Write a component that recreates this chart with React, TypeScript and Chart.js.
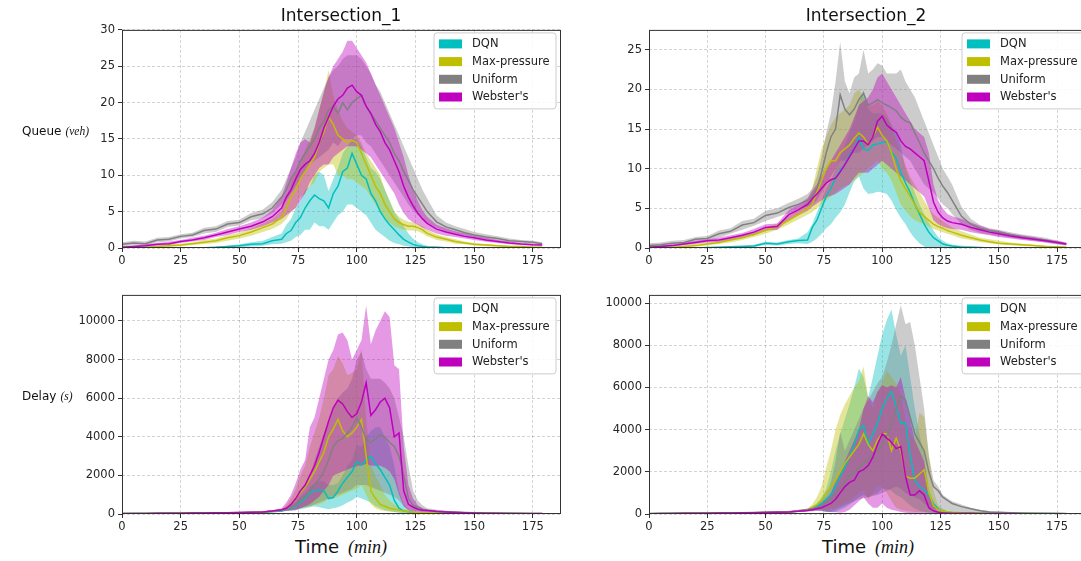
import React, { useEffect, useRef } from "react";
import { Chart, registerables } from "chart.js";

Chart.register(...registerables);

// Shared time axis (minutes)
const T = [0, 5, 10, 15, 20, 25, 30, 35, 40, 45, 50, 55, 60,
  64, 68, 70, 72, 74, 76, 78, 80, 82, 84, 86, 88,
  90, 92, 94, 96, 98, 100, 102, 104, 106, 108,
  110, 112, 114, 116, 118, 120, 122, 124, 126, 128,
  130, 134, 138, 142, 146, 150, 155, 160, 165, 170, 175, 179];

const NAMES = ["DQN", "Max-pressure", "Uniform", "Webster's"];
const LINE_COLORS = ["#00bfbf", "#bfbf00", "#808080", "#bf00bf"];
const FILL_COLORS = ["rgba(0,191,191,0.4)", "rgba(191,191,0,0.4)", "rgba(128,128,128,0.4)", "rgba(191,0,191,0.4)"];

// Tick labels
const X_TICKS = [0, 25, 50, 75, 100, 125, 150, 175];
const Q1_TICKS = [0, 5, 10, 15, 20, 25, 30];
const Q2_TICKS = [0, 5, 10, 15, 20, 25];
const D_TICKS = [0, 2000, 4000, 6000, 8000, 10000];

// ---------- Intersection_1 : Queue ----------
const q1DqnMean = [0, 0, 0, 0, 0, 0, 0, 0.05, 0.1, 0.2, 0.3, 0.5, 0.6,
  1.0, 1.2, 2.0, 2.4, 3.5, 4.2, 5.5, 6.5, 7.3, 6.8, 6.5, 5.5,
  7.5, 8.5, 10.5, 11.0, 13.0, 11.5, 10.0, 9.5, 7.5, 6.5,
  5.0, 4.0, 3.2, 2.5, 1.8, 1.2, 0.8, 0.5, 0.3, 0.2,
  0.15, 0.1, 0.05, 0, 0, 0, 0, 0, 0, 0, 0, 0];
const q1DqnLo = [0, 0, 0, 0, 0, 0, 0, 0, 0, 0.05, 0.1, 0.2, 0.3,
  0.5, 0.6, 0.8, 1.0, 1.5, 1.8, 2.5, 2.5, 3.5, 3.0, 3.0, 2.5,
  3.5, 4.5, 5.0, 6.0, 6.0, 5.5, 5.0, 4.5, 3.5, 2.5,
  2.0, 1.5, 1.0, 0.7, 0.5, 0.3, 0.2, 0.1, 0.05, 0,
  0, 0, 0, 0, 0, 0, 0, 0, 0, 0, 0, 0];
const q1DqnHi = [0, 0, 0, 0, 0, 0.05, 0.05, 0.1, 0.2, 0.3, 0.5, 0.8, 1.0,
  1.5, 2.0, 3.2, 4.0, 5.5, 6.5, 8.0, 8.5, 10.0, 10.5, 10.0, 7.8,
  9.5, 11.0, 13.0, 14.0, 15.0, 15.0, 14.0, 12.5, 11.0, 10.5,
  9.5, 8.0, 6.5, 5.0, 4.0, 3.0, 2.0, 1.3, 0.8, 0.5,
  0.3, 0.2, 0.1, 0.05, 0, 0, 0, 0, 0, 0, 0, 0];

const q1MpMean = [0, 0.05, 0.1, 0.2, 0.3, 0.4, 0.6, 0.8, 1.0, 1.4, 1.7, 2.2, 2.8,
  3.3, 4.2, 5.5, 7.0, 8.0, 9.5, 10.5, 11.5, 12.5, 14.5, 16.0, 18.0,
  17.0, 15.5, 15.0, 14.5, 14.8, 14.5, 13.0, 11.5, 10.0, 8.5,
  7.5, 6.0, 5.0, 4.0, 3.5, 3.2, 3.0, 3.0, 2.8, 2.5,
  2.0, 1.5, 1.2, 0.9, 0.7, 0.5, 0.4, 0.3, 0.2, 0.2, 0.1, 0.1];
const q1MpLo = [0, 0, 0.05, 0.1, 0.15, 0.25, 0.4, 0.55, 0.7, 1.0, 1.3, 1.7, 2.2,
  2.6, 3.3, 4.0, 5.0, 5.5, 7.0, 7.5, 8.5, 9.0, 10.5, 11.0, 11.5,
  11.5, 10.0, 10.0, 9.5, 9.5, 9.0, 8.5, 8.0, 7.0, 6.0,
  5.0, 4.0, 3.5, 3.0, 2.7, 2.5, 2.4, 2.4, 2.3, 2.0,
  1.6, 1.1, 0.9, 0.6, 0.5, 0.35, 0.25, 0.2, 0.1, 0.1, 0.05, 0.05];
const q1MpHi = [0.1, 0.15, 0.2, 0.35, 0.5, 0.6, 0.8, 1.1, 1.3, 1.8, 2.1, 2.7, 3.4,
  4.0, 5.2, 7.0, 9.0, 10.5, 12.0, 13.5, 15.0, 16.5, 19.0, 21.5, 24.5,
  21.0, 19.0, 17.5, 16.5, 16.0, 15.5, 14.5, 13.0, 12.0, 11.0,
  10.0, 8.0, 6.5, 5.0, 4.3, 3.9, 3.6, 3.5, 3.3, 3.0,
  2.5, 1.9, 1.5, 1.2, 0.9, 0.7, 0.55, 0.4, 0.3, 0.3, 0.2, 0.2];

const q1UniMean = [0.5, 0.7, 0.6, 1.1, 1.2, 1.6, 1.8, 2.4, 2.6, 3.3, 3.5, 4.3, 4.7,
  5.5, 7.0, 8.0, 9.5, 10.5, 12.0, 13.0, 14.0, 15.0, 16.5, 17.5, 19.0,
  19.5, 18.5, 20.0, 19.0, 20.0, 20.5, 21.0, 19.5, 18.5, 17.5,
  16.5, 15.5, 14.5, 13.0, 12.0, 10.5, 9.3, 8.0, 7.0, 6.0,
  5.0, 3.6, 2.9, 2.5, 2.1, 1.8, 1.5, 1.3, 1.0, 0.9, 0.8, 0.6];
const q1UniLo = [0.2, 0.4, 0.3, 0.8, 0.9, 1.3, 1.5, 2.0, 2.2, 2.9, 3.1, 3.8, 4.1,
  4.8, 6.0, 6.5, 7.5, 8.5, 9.5, 10.5, 11.5, 12.0, 12.5, 13.0, 13.5,
  14.5, 14.0, 15.0, 15.0, 15.0, 15.5, 15.5, 14.5, 14.0, 13.0,
  12.0, 11.0, 10.0, 9.0, 8.0, 7.0, 6.0, 5.2, 4.5, 4.0,
  3.5, 2.8, 2.3, 2.0, 1.7, 1.5, 1.2, 1.0, 0.8, 0.7, 0.6, 0.4];
const q1UniHi = [0.8, 1.0, 0.9, 1.4, 1.5, 1.9, 2.1, 2.8, 3.0, 3.7, 3.9, 4.8, 5.3,
  6.3, 8.0, 9.5, 11.0, 12.5, 14.5, 16.0, 17.5, 19.0, 20.5, 22.0, 23.5,
  24.5, 25.0, 26.0, 26.5, 26.5, 26.5, 26.0, 25.0, 24.0, 22.5,
  21.5, 20.0, 18.5, 17.0, 15.5, 14.0, 12.5, 11.0, 9.5, 8.0,
  6.8, 4.5, 3.5, 3.0, 2.6, 2.2, 1.9, 1.6, 1.3, 1.1, 1.0, 0.8];

const q1WebMean = [0.1, 0.2, 0.3, 0.5, 0.6, 0.9, 1.1, 1.4, 1.8, 2.2, 2.6, 3.0, 3.6,
  4.3, 5.5, 7.0, 8.0, 9.5, 10.8, 11.5, 12.0, 13.0, 14.5, 16.5, 18.0,
  19.5, 20.5, 21.0, 22.0, 22.4, 21.5, 21.0, 19.5, 18.5, 17.0,
  16.0, 14.5, 13.5, 12.0, 10.5, 8.5, 7.0, 5.8, 4.8, 4.0,
  3.4, 2.6, 2.2, 1.9, 1.6, 1.4, 1.1, 0.9, 0.7, 0.55, 0.45, 0.4];
const q1WebLo = [0, 0.05, 0.15, 0.3, 0.4, 0.7, 0.9, 1.1, 1.5, 1.8, 2.2, 2.5, 3.0,
  3.5, 4.0, 4.5, 5.0, 5.5, 6.5, 7.5, 9.0, 10.0, 11.0, 11.5, 11.5,
  12.5, 13.0, 13.5, 14.0, 14.0, 14.0, 13.5, 13.0, 12.5, 11.5,
  10.5, 9.5, 8.5, 7.5, 6.0, 4.8, 4.0, 3.5, 3.2, 2.8,
  2.5, 2.0, 1.7, 1.5, 1.3, 1.1, 0.85, 0.7, 0.5, 0.4, 0.3, 0.3];
const q1WebHi = [0.25, 0.35, 0.5, 0.7, 0.85, 1.1, 1.4, 1.7, 2.1, 2.6, 3.0, 3.5, 4.2,
  5.2, 7.0, 9.0, 11.0, 13.0, 14.5, 15.0, 14.5, 16.5, 19.0, 21.5, 23.5,
  25.0, 26.0, 27.0, 28.5, 28.5, 27.5, 26.5, 25.5, 24.0, 22.5,
  21.0, 19.5, 18.0, 16.5, 14.5, 12.5, 10.0, 8.0, 6.5, 5.2,
  4.3, 3.2, 2.7, 2.3, 2.0, 1.7, 1.4, 1.1, 0.9, 0.7, 0.6, 0.5];

// ---------- Intersection_2 : Queue ----------
const q2DqnMean = [0, 0, 0, 0, 0, 0.05, 0.1, 0.15, 0.2, 0.25, 0.6, 0.5, 0.8,
  0.95, 1.0, 2.6, 3.5, 5.0, 6.5, 7.5, 8.8, 9.8, 10.5, 11.7, 12.5,
  13.9, 12.5, 12.3, 13.0, 13.1, 13.3, 13.4, 12.1, 11.3, 9.5,
  8.2, 7.0, 5.5, 4.3, 3.0, 2.0, 1.3, 0.9, 0.5, 0.35,
  0.25, 0.1, 0.1, 0.05, 0, 0, 0, 0, 0, 0, 0, 0];
const q2DqnLo = [0, 0, 0, 0, 0, 0, 0, 0.05, 0.1, 0.1, 0.4, 0.3, 0.5,
  0.6, 0.5, 0.8, 1.2, 1.8, 2.5, 3.0, 3.8, 4.5, 5.5, 7.0, 8.4,
  9.0, 7.5, 6.8, 6.9, 7.1, 7.0, 6.8, 6.0, 4.8, 3.8,
  3.0, 2.0, 1.2, 0.6, 0.2, 0, 0, 0, 0, 0,
  0, 0, 0, 0, 0, 0, 0, 0, 0, 0, 0, 0];
const q2DqnHi = [0, 0, 0, 0.05, 0.05, 0.1, 0.2, 0.25, 0.3, 0.4, 0.8, 0.7, 1.0,
  1.2, 2.0, 3.0, 4.5, 6.0, 7.5, 8.5, 10.0, 11.5, 13.0, 14.5, 16.0,
  18.0, 20.0, 17.5, 17.0, 17.0, 17.0, 16.5, 15.5, 14.5, 13.0,
  10.0, 8.5, 7.0, 5.5, 4.3, 3.2, 2.2, 1.4, 0.9, 0.6,
  0.4, 0.3, 0.2, 0.1, 0.05, 0, 0, 0, 0, 0, 0, 0];

const q2MpMean = [0, 0.05, 0.1, 0.2, 0.3, 0.5, 0.7, 1.0, 1.3, 1.7, 2.2, 2.7, 3.5,
  4.2, 5.0, 5.5, 7.0, 8.5, 10.0, 11.0, 11.0, 12.0, 12.5, 13.0, 13.8,
  14.5, 14.0, 13.0, 14.0, 15.2, 14.2, 13.5, 12.0, 10.0, 8.5,
  7.5, 6.5, 5.5, 4.5, 4.0, 3.5, 3.0, 2.7, 2.5, 2.2,
  2.0, 1.6, 1.3, 1.0, 0.8, 0.6, 0.5, 0.4, 0.3, 0.2, 0.15, 0.1];
const q2MpLo = [0, 0, 0.05, 0.1, 0.15, 0.3, 0.5, 0.7, 1.0, 1.4, 1.8, 2.3, 3.0,
  3.6, 4.2, 4.5, 5.0, 5.5, 6.0, 6.5, 7.0, 7.5, 7.8, 8.0, 8.5,
  9.0, 9.5, 10.0, 10.5, 11.0, 10.0, 9.5, 8.5, 7.0, 5.5,
  4.7, 4.0, 3.5, 3.2, 3.0, 2.7, 2.4, 2.2, 2.0, 1.8,
  1.6, 1.2, 1.0, 0.75, 0.6, 0.45, 0.35, 0.25, 0.2, 0.1, 0.05, 0];
const q2MpHi = [0.1, 0.15, 0.2, 0.35, 0.5, 0.7, 0.9, 1.3, 1.6, 2.0, 2.6, 3.1, 4.0,
  4.8, 6.0, 7.5, 10.0, 12.5, 14.0, 15.5, 16.5, 17.0, 17.5, 18.0, 19.5,
  20.0, 19.0, 18.0, 18.0, 18.5, 18.0, 17.0, 15.5, 13.5, 12.0,
  10.5, 9.0, 8.0, 7.0, 6.0, 5.0, 4.3, 3.8, 3.4, 3.0,
  2.6, 2.1, 1.7, 1.3, 1.1, 0.9, 0.7, 0.55, 0.4, 0.3, 0.25, 0.2];

const q2UniMean = [0.3, 0.4, 0.6, 0.7, 1.1, 1.2, 1.8, 2.1, 2.9, 3.2, 4.1, 4.4, 5.1,
  5.5, 6.0, 6.5, 7.5, 9.5, 12.0, 14.0, 15.0, 19.3, 17.5, 16.8, 17.5,
  18.7, 19.5, 18.0, 18.3, 18.7, 18.3, 18.0, 17.7, 17.3, 16.5,
  16.0, 15.8, 14.5, 13.3, 12.0, 11.0, 10.0, 8.8, 7.8, 7.0,
  6.0, 4.0, 3.0, 2.5, 2.2, 2.0, 1.7, 1.4, 1.2, 1.0, 0.7, 0.5];
const q2UniLo = [0.1, 0.2, 0.3, 0.5, 0.7, 0.9, 1.3, 1.8, 2.3, 2.8, 3.4, 3.9, 4.4,
  4.9, 5.2, 5.5, 6.0, 7.0, 8.0, 9.0, 10.0, 11.0, 11.0, 11.5, 12.0,
  12.0, 12.5, 13.0, 13.5, 14.0, 14.0, 13.5, 13.0, 12.5, 12.0,
  11.5, 11.0, 10.0, 9.0, 8.0, 7.5, 7.0, 6.3, 5.5, 5.0,
  4.3, 3.0, 2.3, 1.9, 1.7, 1.5, 1.3, 1.1, 0.9, 0.7, 0.45, 0.3];
const q2UniHi = [0.6, 0.7, 0.9, 1.0, 1.4, 1.5, 2.2, 2.5, 3.4, 3.7, 4.7, 5.0, 5.7,
  6.2, 6.8, 7.5, 9.0, 11.5, 14.5, 17.0, 21.0, 26.0, 21.0, 19.5, 21.5,
  22.0, 25.0, 22.0, 22.5, 23.3, 23.0, 22.0, 22.0, 22.0, 22.5,
  21.0, 20.0, 19.0, 17.5, 16.0, 14.5, 13.0, 11.5, 10.0, 9.0,
  8.0, 5.2, 3.7, 2.9, 2.5, 2.3, 2.0, 1.7, 1.5, 1.3, 0.95, 0.7];

const q2WebMean = [0.1, 0.2, 0.3, 0.5, 0.7, 0.9, 1.0, 1.3, 1.6, 2.0, 2.6, 2.7, 4.2,
  4.8, 5.5, 6.2, 6.8, 7.5, 8.2, 8.6, 8.8, 9.6, 10.5, 11.5, 12.5,
  13.5, 13.5, 13.0, 14.0, 16.0, 16.6, 15.5, 15.0, 14.6, 13.5,
  12.8, 12.5, 12.0, 11.5, 11.0, 8.5, 5.8, 4.5, 3.8, 3.4,
  3.2, 3.0, 2.6, 2.3, 2.0, 1.8, 1.5, 1.3, 1.1, 0.9, 0.7, 0.5];
const q2WebLo = [0, 0.1, 0.15, 0.35, 0.5, 0.7, 0.75, 1.0, 1.3, 1.6, 2.2, 2.3, 3.6,
  4.1, 4.7, 5.2, 5.6, 6.0, 6.4, 6.6, 6.8, 7.2, 7.6, 8.0, 8.8,
  9.5, 9.5, 9.5, 10.0, 10.5, 11.0, 10.5, 10.0, 9.5, 9.0,
  8.5, 8.0, 7.5, 7.0, 6.5, 5.0, 3.5, 3.0, 2.7, 2.5,
  2.4, 2.3, 2.0, 1.8, 1.6, 1.4, 1.2, 1.0, 0.85, 0.7, 0.5, 0.35];
const q2WebHi = [0.2, 0.3, 0.45, 0.65, 0.9, 1.1, 1.3, 1.6, 1.9, 2.4, 3.0, 3.1, 4.8,
  5.5, 6.3, 7.2, 8.0, 9.0, 10.0, 11.0, 12.0, 13.0, 14.0, 15.0, 16.5,
  18.0, 18.5, 19.0, 20.0, 21.5, 22.0, 21.0, 20.0, 19.0, 18.0,
  17.0, 16.0, 15.0, 14.5, 14.0, 12.0, 8.0, 6.0, 5.0, 4.3,
  4.0, 3.7, 3.2, 2.8, 2.4, 2.2, 1.8, 1.6, 1.4, 1.1, 0.9, 0.65];

// ---------- Intersection_1 : Delay ----------
const d1DqnMean = [15, 20, 25, 30, 35, 40, 45, 50, 55, 60, 65, 75, 90,
  120, 150, 250, 300, 400, 600, 800, 1100, 1200, 1250, 1200, 800,
  850, 1200, 1600, 1900, 2200, 2700, 2550, 2800, 3000, 2600,
  2300, 1900, 1500, 700, 300, 150, 120, 90, 70, 60,
  50, 40, 35, 30, 30, 25, 25, 20, 20, 20, 15, 15];
const d1DqnLo = [10, 15, 20, 25, 30, 35, 40, 45, 50, 50, 55, 65, 80,
  100, 120, 150, 180, 200, 250, 300, 350, 400, 350, 300, 250,
  300, 350, 450, 600, 700, 900, 800, 700, 600, 400,
  300, 200, 150, 100, 60, 40, 30, 25, 20, 20,
  20, 20, 20, 15, 15, 15, 15, 10, 10, 10, 10, 10];
const d1DqnHi = [20, 25, 30, 35, 40, 45, 50, 55, 60, 70, 75, 85, 100,
  140, 180, 350, 450, 600, 900, 1100, 1400, 1600, 1700, 1700, 1500,
  1500, 1600, 2000, 2500, 2800, 3600, 3500, 4000, 4300, 4500,
  4500, 4000, 3500, 2500, 1200, 500, 250, 150, 100, 80,
  70, 55, 45, 40, 35, 30, 30, 25, 25, 25, 20, 20];

const d1MpMean = [15, 20, 25, 30, 35, 40, 45, 50, 55, 60, 70, 80, 100,
  140, 200, 300, 500, 800, 1100, 1400, 1800, 2200, 2700, 3200, 4000,
  4400, 4900, 4300, 4000, 4200, 4500, 4900, 3000, 1200, 800,
  500, 400, 300, 250, 200, 150, 120, 100, 80, 70,
  60, 50, 40, 35, 30, 30, 25, 20, 20, 20, 15, 15];
const d1MpLo = [10, 15, 20, 25, 30, 35, 40, 45, 50, 50, 60, 70, 80,
  110, 150, 180, 200, 250, 300, 350, 400, 450, 500, 600, 800,
  800, 900, 1000, 1100, 1200, 1300, 1500, 1000, 500, 300,
  200, 150, 120, 100, 80, 70, 60, 50, 45, 40,
  40, 35, 30, 25, 25, 20, 20, 15, 15, 15, 10, 10];
const d1MpHi = [20, 25, 30, 35, 40, 45, 50, 55, 60, 70, 80, 90, 120,
  170, 250, 450, 800, 1300, 2000, 2500, 3500, 4200, 5000, 6000, 7200,
  7500, 8200, 7800, 7200, 7300, 7500, 8600, 5000, 2500, 2000,
  1500, 1000, 700, 500, 350, 250, 200, 150, 120, 100,
  80, 60, 50, 45, 40, 35, 30, 25, 25, 25, 20, 20];

const d1UniMean = [20, 25, 30, 35, 40, 45, 50, 55, 60, 70, 80, 90, 110,
  150, 200, 250, 350, 450, 700, 900, 1200, 1500, 1800, 2200, 2800,
  3500, 3800, 3900, 4200, 4500, 5000, 4500, 3900, 3700, 3900,
  4100, 4000, 3700, 3500, 3000, 2000, 800, 450, 350, 250,
  200, 150, 120, 100, 80, 60, 50, 40, 35, 30, 25, 20];
const d1UniLo = [10, 15, 20, 25, 30, 35, 40, 45, 50, 55, 60, 70, 80,
  110, 140, 170, 200, 250, 300, 350, 400, 500, 600, 700, 800,
  900, 1000, 1100, 1200, 1300, 1500, 1500, 1500, 1400, 1300,
  1200, 1100, 1000, 900, 700, 400, 200, 150, 120, 100,
  90, 70, 60, 50, 40, 35, 30, 25, 20, 20, 15, 15];
const d1UniHi = [30, 35, 40, 45, 50, 55, 60, 70, 80, 90, 100, 110, 140,
  190, 260, 350, 500, 700, 1100, 1500, 2000, 2800, 3500, 4200, 4800,
  5500, 6000, 6300, 6500, 7000, 8000, 8400, 7500, 7000, 7000,
  7000, 6800, 6500, 6000, 5000, 4000, 2500, 1200, 700, 450,
  300, 220, 170, 140, 110, 90, 70, 55, 45, 40, 35, 30];

const d1WebMean = [20, 25, 30, 35, 40, 45, 50, 55, 60, 70, 80, 90, 110,
  150, 220, 300, 500, 800, 1200, 1500, 2000, 2500, 3200, 4000, 4800,
  5500, 5900, 5700, 5300, 5000, 5200, 5800, 6800, 5100, 5400,
  5800, 6000, 5500, 4000, 4200, 1200, 500, 350, 250, 200,
  180, 130, 100, 80, 60, 50, 40, 35, 30, 30, 25, 25];
const d1WebLo = [10, 15, 20, 25, 30, 35, 40, 45, 50, 55, 60, 70, 80,
  100, 130, 150, 180, 200, 300, 400, 500, 700, 900, 1200, 1500,
  2000, 2100, 2200, 2300, 2400, 2500, 2500, 2600, 2500, 2500,
  2500, 2400, 2200, 1800, 1000, 400, 200, 150, 120, 100,
  90, 70, 60, 50, 40, 35, 30, 25, 20, 20, 20, 20];
const d1WebHi = [30, 35, 40, 45, 50, 55, 60, 70, 80, 90, 100, 110, 140,
  200, 300, 600, 1000, 1600, 2300, 2800, 4500, 5000, 6000, 7000, 8000,
  8500, 9300, 9400, 9000, 8000, 8500, 9000, 10800, 8800, 9500,
  10000, 10500, 10200, 7700, 7500, 3500, 1500, 800, 450, 300,
  220, 160, 130, 100, 80, 65, 55, 45, 40, 40, 35, 30];

// ---------- Intersection_2 : Delay ----------
const d2DqnMean = [15, 20, 25, 30, 35, 40, 45, 50, 55, 60, 70, 80, 100,
  130, 180, 250, 350, 500, 700, 900, 1300, 1800, 2200, 2700, 3300,
  4000, 4200, 3300, 3800, 4300, 5000, 5500, 5800, 5100, 4300,
  4300, 2800, 1600, 1300, 1150, 900, 500, 250, 150, 100,
  80, 60, 50, 40, 30, 30, 25, 20, 20, 20, 15, 15];
const d2DqnLo = [10, 15, 20, 25, 30, 35, 40, 45, 50, 50, 60, 70, 80,
  100, 130, 150, 150, 150, 100, 80, 100, 200, 300, 450, 600,
  800, 900, 800, 900, 1000, 1200, 1200, 1100, 900, 800,
  600, 400, 250, 150, 100, 60, 50, 40, 35, 30,
  30, 25, 20, 20, 20, 15, 15, 15, 10, 10, 10, 10];
const d2DqnHi = [20, 25, 30, 35, 40, 45, 50, 55, 60, 70, 80, 90, 120,
  160, 230, 350, 500, 800, 1200, 2000, 3000, 3800, 4500, 5200, 6000,
  6900, 6500, 5500, 6500, 7500, 8500, 9200, 9700, 8500, 7500,
  8000, 6500, 5000, 3800, 2800, 1200, 500, 250, 150, 100,
  80, 60, 50, 40, 35, 30, 25, 25, 25, 20, 20, 20];

const d2MpMean = [15, 20, 25, 30, 35, 40, 45, 50, 55, 60, 70, 80, 100,
  140, 200, 300, 450, 650, 1000, 1300, 1600, 2000, 2400, 2700, 3000,
  3300, 3800, 3300, 3000, 3500, 3800, 3800, 3000, 3600, 3000,
  1800, 1700, 1700, 1900, 2100, 1000, 400, 200, 150, 100,
  80, 60, 50, 40, 35, 30, 25, 20, 20, 15, 15, 15];
const d2MpLo = [10, 15, 20, 25, 30, 35, 40, 45, 50, 50, 60, 70, 80,
  110, 140, 170, 200, 200, 200, 250, 300, 400, 500, 600, 800,
  1000, 1100, 700, 1000, 1300, 1300, 1000, 600, 300, 200,
  150, 120, 100, 100, 90, 80, 60, 50, 45, 40,
  40, 35, 30, 25, 25, 20, 20, 15, 15, 10, 10, 10];
const d2MpHi = [20, 25, 30, 35, 40, 45, 50, 55, 60, 70, 80, 90, 120,
  170, 260, 450, 800, 1300, 2200, 3000, 4000, 4700, 5200, 5600, 6000,
  6300, 7000, 5500, 5000, 5800, 6200, 6800, 6500, 6200, 5700,
  4500, 3800, 3500, 4800, 4600, 2800, 1100, 400, 250, 150,
  120, 80, 60, 50, 45, 40, 30, 25, 25, 20, 20, 20];

const d2UniMean = [20, 25, 30, 35, 40, 45, 50, 55, 60, 70, 80, 90, 110,
  150, 200, 250, 300, 400, 500, 700, 1000, 1200, 1500, 1800, 2000,
  2200, 2400, 2600, 2800, 3000, 3300, 3700, 4300, 5000, 5600,
  5400, 4600, 3800, 3400, 3000, 2000, 1300, 1100, 800, 650,
  500, 350, 250, 150, 100, 80, 60, 50, 40, 35, 30, 25];
const d2UniLo = [10, 15, 20, 25, 30, 35, 40, 45, 50, 55, 60, 70, 80,
  110, 140, 160, 180, 150, 100, 100, 200, 300, 400, 500, 600,
  700, 750, 800, 850, 900, 1000, 1100, 1200, 1300, 1200,
  1000, 900, 800, 700, 500, 300, 250, 200, 180, 150,
  130, 100, 80, 60, 50, 40, 35, 30, 25, 20, 20, 15];
const d2UniHi = [30, 35, 40, 45, 50, 55, 60, 70, 80, 90, 100, 110, 140,
  200, 260, 350, 450, 650, 900, 1500, 2500, 3900, 3000, 3500, 4000,
  4500, 5000, 5400, 5800, 6200, 6500, 7200, 8000, 9000, 9900,
  9000, 9100, 8000, 6500, 5000, 2800, 1600, 1300, 900, 750,
  600, 450, 300, 200, 140, 110, 80, 65, 55, 45, 40, 35];

const d2WebMean = [15, 20, 25, 30, 35, 40, 45, 50, 55, 60, 70, 80, 100,
  130, 170, 200, 250, 300, 400, 500, 700, 1000, 1300, 1500, 1600,
  2000, 2100, 2300, 2700, 3300, 3800, 3600, 3400, 3100, 3200,
  1800, 900, 900, 1100, 900, 300, 150, 80, 60, 50,
  40, 35, 30, 25, 25, 20, 20, 15, 15, 15, 10, 10];
const d2WebLo = [10, 15, 20, 25, 30, 35, 40, 45, 50, 50, 60, 70, 80,
  100, 120, 130, 150, 150, 120, 100, 80, 60, 100, 200, 400,
  600, 800, 500, 300, 300, 500, 300, 200, 150, 100,
  60, 40, 30, 30, 25, 20, 20, 20, 20, 20,
  15, 15, 15, 15, 10, 10, 10, 10, 5, 5, 5, 5];
const d2WebHi = [20, 25, 30, 35, 40, 45, 50, 55, 60, 70, 80, 90, 120,
  160, 220, 280, 350, 500, 700, 1000, 1500, 2000, 2500, 3000, 3500,
  4000, 5000, 5600, 5300, 5800, 6100, 6000, 6100, 6000, 6500,
  5500, 4500, 3500, 3000, 2500, 1000, 400, 150, 90, 70,
  60, 50, 40, 35, 30, 25, 25, 20, 20, 20, 15, 15];

type Band = { mean: number[]; lo: number[]; hi: number[] };
type Panel = {
  id: string;
  canvas: { left: number; top: number; width: number; height: number };
  area: { left: number; top: number; right: number; bottom: number };
  xMax: number;
  yMax: number;
  yTicks: number[];
  series: Band[];
};

const PANELS: Panel[] = [
  {
    id: "q1",
    canvas: { left: 60, top: 20, width: 510, height: 250 },
    area: { left: 122, top: 28, right: 561, bottom: 248 },
    xMax: 187, yMax: 30, yTicks: Q1_TICKS,
    series: [
      { mean: q1DqnMean, lo: q1DqnLo, hi: q1DqnHi },
      { mean: q1MpMean, lo: q1MpLo, hi: q1MpHi },
      { mean: q1UniMean, lo: q1UniLo, hi: q1UniHi },
      { mean: q1WebMean, lo: q1WebLo, hi: q1WebHi },
    ],
  },
  {
    id: "q2",
    canvas: { left: 590, top: 20, width: 510, height: 250 },
    area: { left: 649, top: 27, right: 1089, bottom: 248 },
    xMax: 188.7, yMax: 27.5, yTicks: Q2_TICKS,
    series: [
      { mean: q2DqnMean, lo: q2DqnLo, hi: q2DqnHi },
      { mean: q2MpMean, lo: q2MpLo, hi: q2MpHi },
      { mean: q2UniMean, lo: q2UniLo, hi: q2UniHi },
      { mean: q2WebMean, lo: q2WebLo, hi: q2WebHi },
    ],
  },
  {
    id: "d1",
    canvas: { left: 60, top: 285, width: 510, height: 250 },
    area: { left: 122, top: 293, right: 561, bottom: 514 },
    xMax: 187, yMax: 11350, yTicks: D_TICKS,
    series: [
      { mean: d1DqnMean, lo: d1DqnLo, hi: d1DqnHi },
      { mean: d1MpMean, lo: d1MpLo, hi: d1MpHi },
      { mean: d1UniMean, lo: d1UniLo, hi: d1UniHi },
      { mean: d1WebMean, lo: d1WebLo, hi: d1WebHi },
    ],
  },
  {
    id: "d2",
    canvas: { left: 590, top: 285, width: 510, height: 250 },
    area: { left: 649, top: 293, right: 1089, bottom: 514 },
    xMax: 188.7, yMax: 10390, yTicks: D_TICKS,
    series: [
      { mean: d2DqnMean, lo: d2DqnLo, hi: d2DqnHi },
      { mean: d2MpMean, lo: d2MpLo, hi: d2MpHi },
      { mean: d2UniMean, lo: d2UniLo, hi: d2UniHi },
      { mean: d2WebMean, lo: d2WebLo, hi: d2WebHi },
    ],
  },
];

const SANS = '"DejaVu Sans", sans-serif';
const SERIF = '"Liberation Serif", "DejaVu Serif", serif';
const TICK_COLOR = "#262626";

function pts(ys: number[]) {
  return ys.map((y, i) => ({ x: T[i], y }));
}

const framePlugin = {
  id: "frame",
  afterDatasetsDraw(chart: any) {
    const { ctx, chartArea: a } = chart;
    ctx.save();
    ctx.strokeStyle = "#333333";
    ctx.lineWidth = 1;
    ctx.strokeRect(a.left + 0.5, a.top + 0.5, a.right - a.left - 1, a.bottom - a.top - 1);
    ctx.restore();
  },
};

const legendBoxPlugin = {
  id: "legendBox",
  afterDraw(chart: any) {
    const { ctx, chartArea: a } = chart;
    const w = 122, h = 76;
    const x = a.right - 127, y = a.top + 3;
    ctx.save();
    ctx.beginPath();
    const r = 3;
    ctx.moveTo(x + r, y);
    ctx.lineTo(x + w - r, y);
    ctx.quadraticCurveTo(x + w, y, x + w, y + r);
    ctx.lineTo(x + w, y + h - r);
    ctx.quadraticCurveTo(x + w, y + h, x + w - r, y + h);
    ctx.lineTo(x + r, y + h);
    ctx.quadraticCurveTo(x, y + h, x, y + h - r);
    ctx.lineTo(x, y + r);
    ctx.quadraticCurveTo(x, y, x + r, y);
    ctx.closePath();
    ctx.fillStyle = "rgba(255,255,255,0.85)";
    ctx.fill();
    ctx.strokeStyle = "#cccccc";
    ctx.lineWidth = 1;
    ctx.stroke();
    ctx.font = `11.5px ${SANS}`;
    ctx.textBaseline = "middle";
    ctx.textAlign = "left";
    NAMES.forEach((name, i) => {
      const cy = y + 11 + i * 17.7;
      ctx.fillStyle = LINE_COLORS[i];
      ctx.fillRect(x + 5, cy - 4.5, 23, 9);
      ctx.fillStyle = "#222222";
      ctx.fillText(name, x + 38, cy + 0.5);
    });
    ctx.restore();
  },
};

function ChartPanel({ p }: { p: Panel }) {
  const ref = useRef<HTMLCanvasElement | null>(null);
  useEffect(() => {
    const cv = ref.current;
    if (!cv) return;
    const c = p.canvas;
    const a = p.area;
    const datasets: any[] = [];
    p.series.forEach((s, k) => {
      datasets.push({
        label: NAMES[k] + " lower",
        data: pts(s.lo),
        borderColor: "rgba(0,0,0,0)",
        borderWidth: 0,
        pointRadius: 0,
        fill: false,
        order: 20 - k,
      });
      datasets.push({
        label: NAMES[k] + " band",
        data: pts(s.hi),
        borderColor: "rgba(0,0,0,0)",
        borderWidth: 0,
        pointRadius: 0,
        backgroundColor: FILL_COLORS[k],
        fill: "-1",
        order: 20 - k,
      });
      datasets.push({
        label: NAMES[k],
        data: pts(s.mean),
        borderColor: LINE_COLORS[k],
        borderWidth: 1.5,
        pointRadius: 0,
        fill: false,
        order: 10 - k,
      });
    });

    const gridOpts = { color: "rgba(0,0,0,0.22)", lineWidth: 0.8, tickLength: 4, tickColor: "#333333", tickWidth: 1 };

    const chart = new Chart(cv, {
      type: "line",
      data: { datasets },
      options: {
        responsive: false,
        animation: false,
        events: [],
        layout: {
          padding: { left: 0, top: a.top - c.top, right: c.left + c.width - a.right, bottom: 0 },
        },
        elements: { line: { tension: 0 } },
        plugins: {
          legend: { display: false },
          tooltip: { enabled: false },
          title: { display: false },
          filler: { drawTime: "beforeDatasetsDraw", propagate: false },
        } as any,
        scales: {
          x: {
            type: "linear",
            min: 0,
            max: p.xMax,
            afterFit: (sc: any) => { sc.height = c.height - (a.bottom - c.top); },
            afterBuildTicks: (sc: any) => { sc.ticks = X_TICKS.map((v) => ({ value: v })); },
            ticks: {
              autoSkip: false,
              maxRotation: 0,
              padding: 2,
              color: TICK_COLOR,
              font: { family: SANS, size: 11.5 },
              callback: (v: any) => String(v),
            },
            grid: gridOpts,
            border: { display: false, dash: [3, 2] },
          },
          y: {
            type: "linear",
            min: 0,
            max: p.yMax,
            afterFit: (sc: any) => { sc.width = a.left - c.left; },
            afterBuildTicks: (sc: any) => { sc.ticks = p.yTicks.map((v) => ({ value: v })); },
            ticks: {
              autoSkip: false,
              padding: 3,
              color: TICK_COLOR,
              font: { family: SANS, size: 11.5 },
              callback: (v: any) => String(v),
            },
            grid: gridOpts,
            border: { display: false, dash: [3, 2] },
          },
        } as any,
      },
      plugins: [framePlugin, legendBoxPlugin],
    });
    return () => chart.destroy();
  }, [p]);

  return (
    <canvas
      ref={ref}
      width={p.canvas.width}
      height={p.canvas.height}
      style={{ position: "absolute", left: p.canvas.left, top: p.canvas.top, width: p.canvas.width, height: p.canvas.height }}
    />
  );
}

function CenterText({ cx, top, children, size, lh }: { cx: number; top: number; children: any; size: number; lh: number }) {
  return (
    <div
      style={{
        position: "absolute",
        left: cx,
        top,
        transform: "translateX(-50%)",
        whiteSpace: "nowrap",
        fontFamily: SANS,
        fontSize: size,
        lineHeight: `${lh}px`,
        color: "#111111",
      }}
    >
      {children}
    </div>
  );
}

export default function App() {
  return (
    <div
      style={{
        position: "fixed",
        left: 0,
        top: 0,
        width: 1081,
        height: 561,
        overflow: "hidden",
        background: "#ffffff",
      }}
    >
      {PANELS.map((p) => (
        <ChartPanel key={p.id} p={p} />
      ))}
      <CenterText cx={341} top={5} size={17} lh={20}>Intersection_1</CenterText>
      <CenterText cx={866} top={5} size={17} lh={20}>Intersection_2</CenterText>
      <CenterText cx={341} top={535} size={18} lh={24}>
        Time<span style={{ fontFamily: SERIF, fontStyle: "italic", fontSize: 18, marginLeft: 9 }}>(min)</span>
      </CenterText>
      <CenterText cx={868} top={535} size={18} lh={24}>
        Time<span style={{ fontFamily: SERIF, fontStyle: "italic", fontSize: 18, marginLeft: 9 }}>(min)</span>
      </CenterText>
      <div style={{ position: "absolute", left: 22, top: 123, fontFamily: SANS, fontSize: 12, lineHeight: "16px", color: "#111111", whiteSpace: "nowrap" }}>
        Queue<span style={{ fontFamily: SERIF, fontStyle: "italic", fontSize: 11.5, marginLeft: 4 }}>(veh)</span>
      </div>
      <div style={{ position: "absolute", left: 22, top: 388, fontFamily: SANS, fontSize: 12, lineHeight: "16px", color: "#111111", whiteSpace: "nowrap" }}>
        Delay<span style={{ fontFamily: SERIF, fontStyle: "italic", fontSize: 11.5, marginLeft: 4 }}>(s)</span>
      </div>
    </div>
  );
}
